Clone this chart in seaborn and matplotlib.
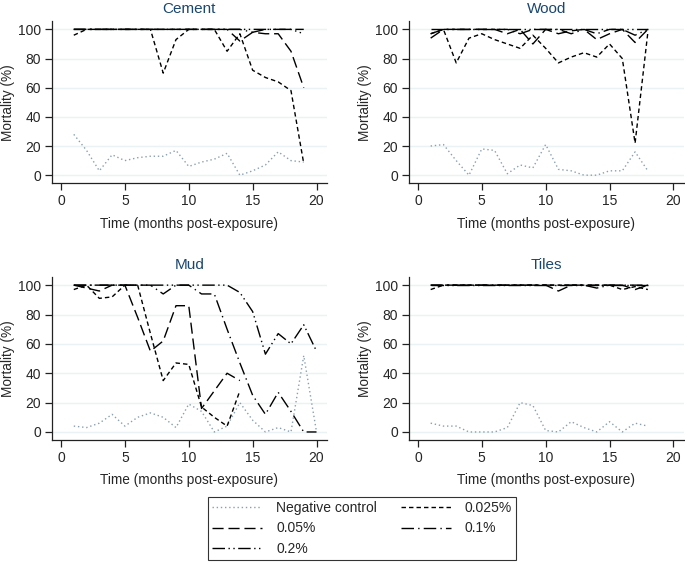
import numpy as np
import pandas as pd
import seaborn as sns
import matplotlib.pyplot as plt
from matplotlib.lines import Line2D

sns.set_style("white")
plt.rcParams['font.family'] = ['Liberation Sans', 'DejaVu Sans']

concs = ["Negative control", "0.025%", "0.05%", "0.1%", "0.2%"]
panels = ["Cement", "Wood", "Mud", "Tiles"]

# mortality (%) by month
cement = {
    "Negative control": [28, 17, 3, 14, 10, 12, 13, 13, 17, 6, 9, 11, 15, 0, 3, 7, 16, 10, 9],
    "0.025%": [96, 100, 100, 100, 100, 100, 100, 70, 93, 100, 100, 100, 85, 97, 72, 67, 64, 58, 8],
    "0.05%": [100, 100, 100, 100, 100, 100, 100, 100, 100, 100, 100, 100, 100, 92, 98, 97, 97, 85, 60],
    "0.1%": [100, 100, 100, 100, 100, 100, 100, 100, 100, 100, 100, 100, 100, 100, 98, 100, 100, 100, 100],
    "0.2%": [100, 100, 100, 100, 100, 100, 100, 100, 100, 100, 100, 100, 100, 100, 100, 100, 100, 100, 97],
}
wood = {
    "Negative control": [20, 21, 10, 0, 18, 17, 1, 7, 5, 21, 4, 3, 0, 0, 3, 3, 16, 3],
    "0.025%": [97, 100, 77, 94, 97, 93, 90, 87, 96, 87, 77, 81, 84, 81, 90, 80, 22, 98],
    "0.05%": [94, 100, 100, 100, 100, 100, 97, 100, 90, 100, 97, 99, 100, 93, 97, 100, 91, 100],
    "0.1%": [97, 100, 100, 100, 100, 100, 100, 97, 100, 100, 100, 97, 100, 97, 100, 100, 96, 100],
    "0.2%": [100, 100, 100, 100, 100, 100, 100, 100, 100, 100, 100, 100, 100, 100, 100, 100, 100, 100],
}
mud = {
    "Negative control": [4, 3, 6, 12, 4, 10, 13, 10, 3, 19, 14, 0, 4, 20, 8, 0, 3, 0, 52, 0],
    "0.025%": [97, 100, 91, 92, 100, 100, 67, 35, 47, 46, 17, 10, 4, 28],
    "0.05%": [100, 98, 96, 100, 100, 78, 55, 62, 86, 86, 16, 28, 40, 35],
    "0.1%": [100, 100, 100, 100, 100, 100, 100, 94, 100, 100, 94, 94, 70, 47, 25, 12, 27, 14, 0, 0],
    "0.2%": [100, 100, 100, 100, 100, 100, 100, 100, 100, 100, 100, 100, 100, 95, 82, 53, 67, 60, 73, 55],
}
tiles = {
    "Negative control": [6, 4, 4, 0, 0, 0, 3, 20, 18, 1, 0, 7, 3, 0, 7, 0, 6, 4],
    "0.025%": [97, 100, 100, 100, 100, 100, 100, 100, 100, 100, 100, 100, 100, 100, 100, 97, 99, 97],
    "0.05%": [100, 100, 100, 100, 100, 100, 100, 100, 100, 100, 96, 100, 100, 100, 100, 100, 97, 100],
    "0.1%": [100, 100, 100, 100, 100, 100, 100, 100, 100, 100, 100, 100, 100, 98, 100, 100, 100, 100],
    "0.2%": [100, 100, 100, 100, 100, 100, 100, 100, 100, 100, 100, 100, 100, 100, 100, 100, 100, 100],
}
data = {"Cement": cement, "Wood": wood, "Mud": mud, "Tiles": tiles}

rows = []
for p in panels:
    for c in concs:
        for i, v in enumerate(data[p][c]):
            rows.append((p, c, i + 1, v))
df = pd.DataFrame(rows, columns=["surface", "conc", "month", "mortality"])

colors = {"Negative control": "#8a9fae", "0.025%": "black", "0.05%": "black",
          "0.1%": "black", "0.2%": "black"}
dashes = {"Negative control": (1, 2), "0.025%": (3.2, 2.2), "0.05%": (8, 3.5),
          "0.1%": (9, 3, 1, 3), "0.2%": (9, 2.5, 1, 2.5, 1, 2.5)}

fig = plt.figure(figsize=(6.85, 5.62), dpi=100)
pos = {"Cement": [0.076, 0.674, 0.401, 0.288],
       "Wood": [0.597, 0.674, 0.401, 0.288],
       "Mud": [0.076, 0.217, 0.401, 0.290],
       "Tiles": [0.597, 0.217, 0.401, 0.290]}

for p in panels:
    ax = fig.add_axes(pos[p])
    sub = df[df.surface == p]
    sns.lineplot(data=sub, x="month", y="mortality", hue="conc", style="conc",
                 palette=colors, dashes=dashes, hue_order=concs, style_order=concs,
                 linewidth=1.0, legend=False, ax=ax)
    ax.set_xlim(-0.7, 20.8)
    ax.set_ylim(-5.5, 105.5)
    ax.set_xticks([0, 5, 10, 15, 20])
    ax.set_yticks([0, 20, 40, 60, 80, 100])
    ax.yaxis.grid(True, color="#eaf2f3", linewidth=1.0)
    ax.set_axisbelow(True)
    for s in ["top", "right"]:
        ax.spines[s].set_visible(False)
    for s in ["left", "bottom"]:
        ax.spines[s].set_color("#222222")
        ax.spines[s].set_linewidth(0.9)
    ax.tick_params(axis="both", direction="out", length=5, width=0.9,
                   color="#222222", labelsize=10, left=True, bottom=True, pad=3)
    ax.set_xlabel("Time (months post-exposure)", fontsize=9.8, labelpad=6)
    ax.set_ylabel("Mortality (%)", fontsize=9.8, labelpad=2)
    ax.set_title(p, fontsize=11, color="#1a476f", pad=6)

handles = []
order = ["Negative control", "0.05%", "0.2%", "0.025%", "0.1%"]
for c in order:
    handles.append(Line2D([0], [0], color=colors[c], linewidth=1.0,
                          linestyle=(0, dashes[c])))
leg = fig.legend(handles, order, loc="upper left",
                 bbox_to_anchor=(208 / 685, 1 - 497 / 562),
                 ncol=2, frameon=True, fancybox=False, fontsize=10,
                 handlelength=3.6, columnspacing=1.7, handletextpad=1.0,
                 borderpad=0.3, labelspacing=0.45, borderaxespad=0)
leg.get_frame().set_edgecolor("black")
leg.get_frame().set_linewidth(0.8)

fig.savefig("out.png", dpi=100)
